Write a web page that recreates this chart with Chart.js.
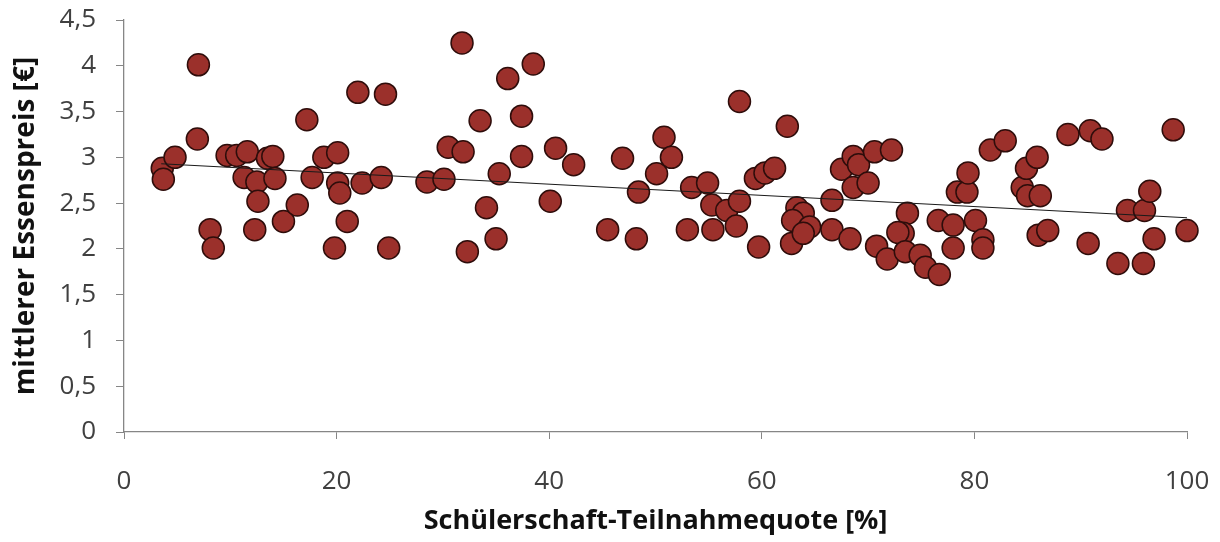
<!DOCTYPE html>
<html>
<head>
<meta charset="utf-8">
<script src="https://cdn.jsdelivr.net/npm/chart.js@4/dist/chart.umd.min.js"></script>
<style>
  html, body { margin: 0; padding: 0; background: #fff; }
  #wrap { width: 1220px; height: 542px; }
</style>
</head>
<body>
<div id="wrap"><canvas id="chart" width="1220" height="542"></canvas></div>
<script>
// Schülerschaft-Teilnahmequote [%]
const quote = [3.6, 3.7, 4.8, 6.9, 7.0, 8.1, 8.4, 9.7, 10.6, 11.6, 11.3, 12.5, 12.6, 12.3, 13.5, 14.0, 14.2, 15.0, 16.3, 17.2,
  17.7, 18.8, 20.1, 20.1, 20.3, 21.0, 19.8, 22.0, 22.4, 24.6, 24.2, 24.9, 28.5, 30.1, 30.5, 31.9, 31.8, 32.3, 33.5, 34.1,
  35.0, 35.3, 36.1, 37.4, 37.4, 38.5, 40.1, 40.6, 42.3, 45.5, 46.9, 48.2, 48.4, 50.1, 50.8, 51.5, 53.0, 53.4, 54.9, 55.3,
  55.4, 56.7, 57.6, 57.9, 57.9, 59.4, 59.7, 60.3, 61.2, 62.4, 62.8, 63.3, 63.9, 62.9, 64.5, 63.9, 66.6, 66.6, 68.3, 67.5,
  68.6, 69.1, 68.6, 70.0, 70.6, 72.2, 73.7, 73.3, 72.8, 70.8, 71.8, 73.5, 74.9, 75.4, 76.6, 76.7, 78.0, 78.0, 78.4, 79.3,
  79.4, 80.1, 80.8, 80.8, 81.5, 82.9, 84.5, 84.9, 85.0, 85.9, 86.2, 86.0, 86.9, 88.8, 90.9, 92.0, 90.7, 93.5, 94.4, 96.0,
  95.9, 96.5, 96.9, 98.7, 100.0];
// mittlerer Essenspreis [€]
const preis = [2.88, 2.76, 3.0, 3.2, 4.01, 2.21, 2.01, 3.02, 3.02, 3.06, 2.78, 2.73, 2.52, 2.21, 2.99, 3.01, 2.77, 2.3, 2.48, 3.41,
  2.78, 3.0, 3.05, 2.72, 2.61, 2.3, 2.01, 3.71, 2.72, 3.69, 2.78, 2.01, 2.73, 2.76, 3.11, 3.06, 4.25, 1.97, 3.4, 2.45,
  2.11, 2.82, 3.86, 3.45, 3.01, 4.02, 2.52, 3.1, 2.92, 2.21, 2.99, 2.11, 2.62, 2.82, 3.22, 3.0, 2.21, 2.67, 2.72, 2.48,
  2.21, 2.42, 2.25, 2.52, 3.61, 2.77, 2.02, 2.83, 2.88, 3.34, 2.06, 2.45, 2.39, 2.31, 2.24, 2.17, 2.53, 2.21, 2.11, 2.87,
  3.01, 2.92, 2.67, 2.72, 3.06, 3.08, 2.39, 2.17, 2.18, 2.03, 1.89, 1.97, 1.93, 1.80, 2.31, 1.72, 2.26, 2.01, 2.62, 2.62,
  2.83, 2.31, 2.1, 2.01, 3.08, 3.18, 2.67, 2.88, 2.58, 3.0, 2.58, 2.15, 2.2, 3.25, 3.29, 3.2, 2.06, 1.84, 2.42, 2.42,
  1.84, 2.63, 2.11, 3.30, 2.2];
// trend line end points
const trendX = [3.5, 100];
const trendY = [2.93, 2.34];

const xTicks = [0, 20, 40, 60, 80, 100];
const yTicks = [0, 0.5, 1, 1.5, 2, 2.5, 3, 3.5, 4, 4.5];

const axisColor = "#868686";
const textColor = "#404040";
const fontFam = "'Open Sans', sans-serif";

new Chart(document.getElementById("chart"), {
  type: "scatter",
  data: {
    datasets: [{
      label: "Schulen",
      data: quote.map((q, i) => ({ x: q, y: preis[i] })),
      backgroundColor: "#9b302b",
      borderColor: "#2e0d0b",
      borderWidth: 1.5,
      pointRadius: 11,
      pointHoverRadius: 11,
      clip: false,
      order: 1
    }, {
      type: "line",
      label: "Trend",
      data: trendX.map((q, i) => ({ x: q, y: trendY[i] })),
      borderColor: "#1a1a1a",
      borderWidth: 1.2,
      pointRadius: 0,
      fill: false,
      order: 0
    }]
  },
  options: {
    responsive: false,
    animation: false,
    layout: { padding: { top: 20, left: 0, right: 33, bottom: 0 } },
    plugins: {
      legend: { display: false },
      tooltip: { enabled: false }
    },
    scales: {
      x: {
        type: "linear",
        min: 0,
        max: 100,
        afterBuildTicks: s => { s.ticks = xTicks.map(v => ({ value: v })); },
        afterFit: s => { s.height = 110; s.paddingLeft = 0; s.paddingRight = 0; },
        grid: { display: true, drawOnChartArea: false, drawTicks: true, tickLength: 7, color: axisColor },
        border: { display: true, color: axisColor, width: 1.3 },
        ticks: { color: textColor, padding: 27, maxRotation: 0, font: { family: fontFam, size: 26 } },
        title: {
          display: true,
          text: "Schülerschaft-Teilnahmequote [%]",
          color: "#111",
          font: { family: fontFam, size: 27, weight: "bold" },
          padding: { top: 0, bottom: 4 }
        }
      },
      y: {
        type: "linear",
        min: 0,
        max: 4.5,
        afterBuildTicks: s => { s.ticks = yTicks.map(v => ({ value: v })); },
        afterFit: s => { s.width = 124; s.paddingTop = 0; s.paddingBottom = 0; },
        grid: { display: true, drawOnChartArea: false, drawTicks: true, tickLength: 8, color: axisColor },
        border: { display: true, color: axisColor, width: 1.3 },
        ticks: {
          color: textColor,
          padding: 20,
          font: { family: fontFam, size: 26 },
          callback: v => String(v).replace(".", ",")
        },
        title: {
          display: true,
          text: "mittlerer Essenspreis [€]",
          color: "#111",
          font: { family: fontFam, size: 28, weight: "bold" },
          padding: { top: 9, bottom: 0 }
        }
      }
    }
  }
});
</script>
</body>
</html>
